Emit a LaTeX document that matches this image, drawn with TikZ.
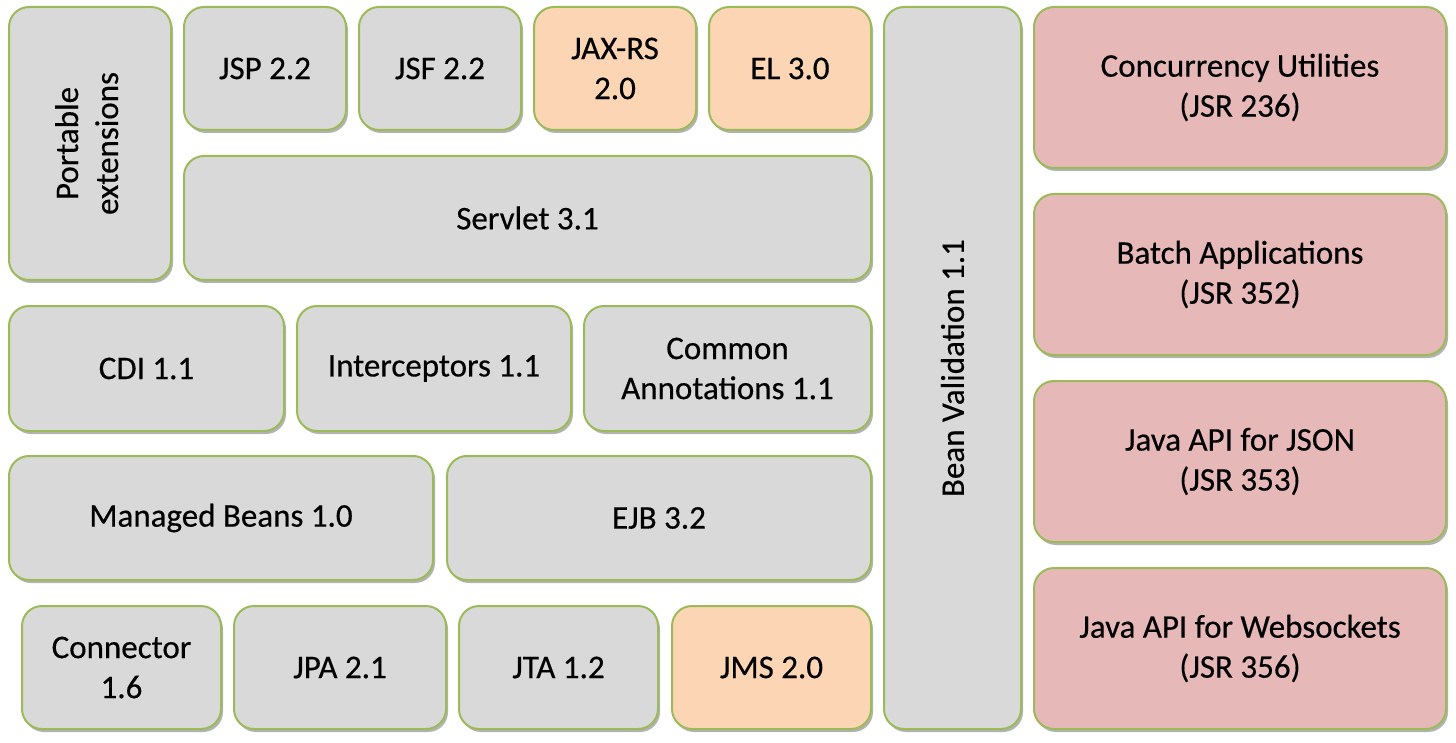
\documentclass[tikz,border=0pt]{standalone}
\usepackage{fontspec}
\setmainfont{Carlito}[UprightFeatures={FakeBold=0.4}]
\usetikzlibrary{positioning}
\usetikzlibrary{shadows}

\definecolor{boxgray}{HTML}{D9D9D9}
\definecolor{boxorange}{HTML}{FCD5B4}
\definecolor{boxred}{HTML}{E6B9B8}
\definecolor{boxline}{HTML}{9BBB59}

\begin{document}
\begin{tikzpicture}[x=1pt, y=-1pt,
  box/.style={draw=boxline, line width=2pt, rounded corners=20pt, outer sep=0pt,
    inner sep=0pt, align=center, font=\fontsize{33}{40}\selectfont,
    drop shadow={shadow xshift=2pt, shadow yshift=-3pt, opacity=0.3, fill=black}},
  gbox/.style={box, fill=boxgray},
  obox/.style={box, fill=boxorange},
  rbox/.style={box, fill=boxred},
  small/.style={minimum width=162pt, minimum height=123pt}]
\useasboundingbox (0,0) rectangle (1456,743);
% Top row
\node[gbox, small, anchor=north west] (jsp) at (184,7) {JSP 2.2};
\node[gbox, small, right=13pt of jsp] (jsf) {JSF 2.2};
\node[obox, small, right=13pt of jsf] (jaxrs) {JAX-RS\\2.0};
\node[obox, small, right=13pt of jaxrs] (el) {EL 3.0};
\node[gbox, minimum width=162pt, minimum height=273pt, left=13pt of jsp.north west, anchor=north east] (pe)
  {\rotatebox{90}{\begin{tabular}{c}Portable\\extensions\end{tabular}}};
\node[gbox, minimum width=687pt, minimum height=124pt, below=26pt of jsp.south west, anchor=north west] (servlet) {Servlet 3.1};

% Middle rows
\node[gbox, minimum width=275pt, minimum height=125pt, below=26pt of pe.south west, anchor=north west] (cdi) {CDI 1.1};
\node[gbox, minimum width=274pt, minimum height=125pt, right=13pt of cdi] (icpt) {Interceptors 1.1};
\node[gbox, minimum width=287pt, minimum height=125pt, right=13pt of icpt] (ca) {Common\\Annotations 1.1};
\node[gbox, minimum width=424pt, minimum height=124pt, below=25pt of cdi.south west, anchor=north west] (mb) {Managed Beans 1.0};
\node[gbox, minimum width=424pt, minimum height=124pt, right=14pt of mb] (ejb) {EJB 3.2};

% Bottom row
\node[gbox, minimum width=199pt, minimum height=123pt, below right=26pt and 13pt of mb.south west] (conn) {Connector\\1.6};
\node[gbox, minimum width=212pt, minimum height=123pt, right=13pt of conn] (jpa) {JPA 2.1};
\node[gbox, minimum width=199pt, minimum height=123pt, right=13pt of jpa] (jta) {JTA 1.2};
\node[obox, minimum width=199pt, minimum height=123pt, right=14pt of jta] (jms) {JMS 2.0};

% Bean validation
\node[gbox, minimum width=137pt, minimum height=722pt, right=13pt of el.north east, anchor=north west] (bv)
  {\rotatebox{90}{Bean Validation 1.1}};

% New APIs
\node[rbox, minimum width=412pt, minimum height=161pt, right=13pt of bv.north east, anchor=north west] (conc) {Concurrency Utilities\\(JSR 236)};
\node[rbox, minimum width=412pt, minimum height=161pt, below=26pt of conc] (batch) {Batch Applications\\(JSR 352)};
\node[rbox, minimum width=412pt, minimum height=161pt, below=26pt of batch] (json) {Java API for JSON\\(JSR 353)};
\node[rbox, minimum width=412pt, minimum height=161pt, below=26pt of json] (ws) {Java API for Websockets\\(JSR 356)};
\end{tikzpicture}
\end{document}
